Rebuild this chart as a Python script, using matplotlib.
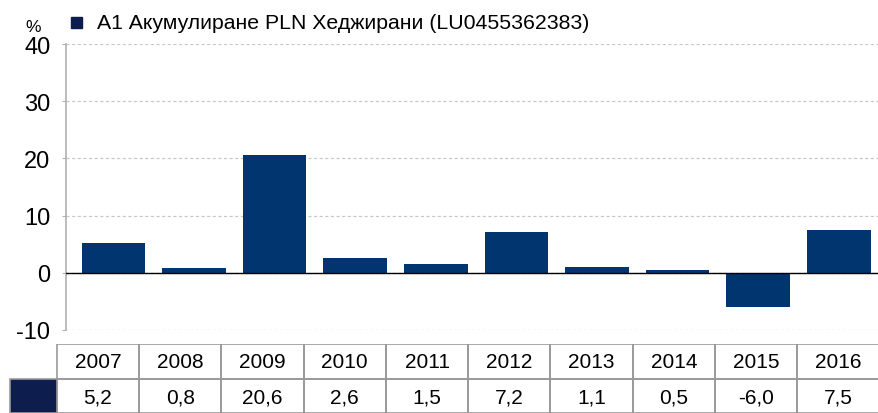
import matplotlib.pyplot as plt
from matplotlib.patches import Rectangle
import numpy as np

plt.rcParams['font.family'] = ['Liberation Sans', 'DejaVu Sans']
plt.rcParams['axes.unicode_minus'] = False

# Data
years = ["2007", "2008", "2009", "2010", "2011", "2012", "2013", "2014", "2015", "2016"]
returns = [5.2, 0.8, 20.6, 2.6, 1.5, 7.2, 1.1, 0.5, -6.0, 7.5]
series_name = "A1 Акумулиране PLN Хеджирани (LU0455362383)"

bar_color = '#003570'
key_color = '#0c1d4e'
W, H = 879, 414

fig = plt.figure(figsize=(W / 100, H / 100), dpi=100)

# main chart
ax = fig.add_axes([65.7 / W, 1 - 331 / H, 1 - 65.7 / W, (331 - 45) / H])
x = np.arange(len(years))
ax.bar(x, returns, width=0.79, color=bar_color, zorder=3)
ax.axhline(0, color='black', lw=1.0, zorder=4)
ax.set_xlim(-0.593, 9.5)
ax.set_ylim(-10, 40)
ax.set_yticks([-10, 0, 10, 20, 30, 40])
ax.yaxis.grid(True, linestyle=(0, (2.5, 2)), color='#c8c8c8', lw=0.9, zorder=0)
ax.set_xticks([])
for s in ['top', 'right', 'bottom']:
    ax.spines[s].set_visible(False)
ax.spines['left'].set_color('#b0b0b0')
ax.spines['left'].set_linewidth(1.2)
ax.tick_params(axis='y', length=3, color='#b0b0b0', labelsize=17, pad=8)

# title / legend
fig.text(25 / W, 1 - 27 / H, "%", fontsize=12.5, va='center', ha='left')
fig.add_artist(Rectangle((71 / W, 1 - 29 / H), 11.5 / W, 11.5 / H,
                         transform=fig.transFigure, color=key_color))
fig.text(97 / W, 1 - 23.5 / H, series_name, fontsize=15.3, va='center', ha='left')

# data table below the chart
tab = fig.add_axes([0, 0, 1, 69 / H])
tab.set_xlim(0, W)
tab.set_ylim(0, 69)
tab.axis('off')
x0, cw = 56.7, 82.3
row_h = 35
border = '#999999'
for i, (yr, v) in enumerate(zip(years, returns)):
    cx = x0 + i * cw
    tab.add_patch(Rectangle((cx, 69 - row_h), cw, row_h, fill=False, ec=border, lw=1.2))
    tab.add_patch(Rectangle((cx, 0), cw, 69 - row_h, fill=False, ec=border, lw=1.2))
    tab.text(cx + cw / 2, 69 - row_h / 2, yr, ha='center', va='center', fontsize=15)
    tab.text(cx + cw / 2, (69 - row_h) / 2 - 1, f"{v:.1f}".replace('.', ','),
             ha='center', va='center', fontsize=15)
tab.add_patch(Rectangle((10, 0), x0 - 10, 69 - row_h, fc=key_color, ec=border, lw=1.2))

fig.savefig('out.png', dpi=100)
